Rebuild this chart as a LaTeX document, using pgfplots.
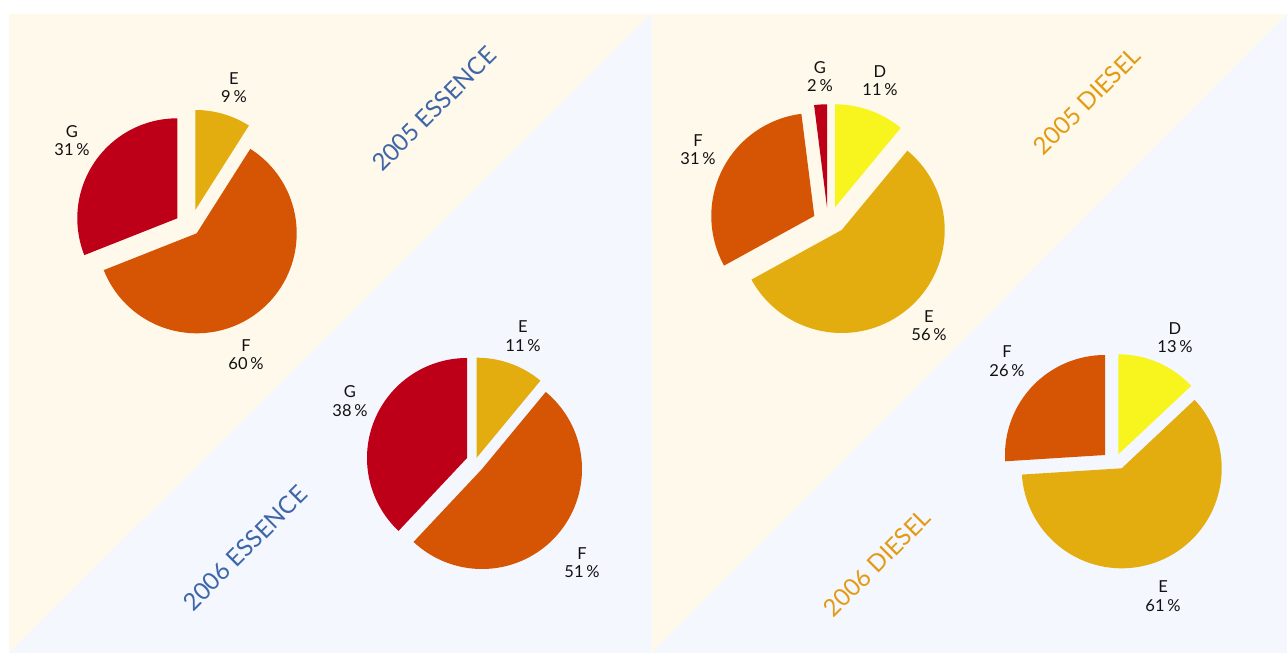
\documentclass[border=0pt]{standalone}
\usepackage{pgfplots}
\pgfplotsset{compat=1.18}
\usepackage{fontspec}
\setmainfont{Lato}
\definecolor{cream}{HTML}{FEF9EA}
\definecolor{paleblue}{HTML}{F4F7FD}
\definecolor{cRed}{HTML}{BD0017}
\definecolor{cOrange}{HTML}{D55504}
\definecolor{cGold}{HTML}{E3AD0F}
\definecolor{cYellow}{HTML}{F7F41E}
\definecolor{tBlue}{HTML}{3F66A8}
\definecolor{tOrange}{HTML}{E39B14}
\definecolor{lbl}{HTML}{111111}
% #1 cx, #2 cy (image coords), #3 radius, #4 cumulative share before, #5 share (percent), #6 colour
\newcommand{\slice}[6]{%
  \addplot[fill=#6, draw=none, domain={90-3.6*(#4+#5)}:{90-3.6*(#4)}, samples=120, variable=\t]
    ({#1+#3*cos(\t)},{#2-#3*sin(\t)}) -- (#1,#2) -- cycle;
}
\newcommand{\lab}[3]{\node[align=center, text=lbl, inner sep=0pt, font=\fontsize{16.5}{18.5}\selectfont] at (axis cs:#1,#2) {#3};}
\begin{document}
\begin{tikzpicture}
\begin{axis}[
  scale only axis, width=1287pt, height=653pt,
  xmin=0, xmax=1287, ymin=0, ymax=653, y dir=reverse,
  hide axis, clip=true]
% backgrounds
\addplot[fill=white, draw=none] coordinates {(0,0) (1287,0) (1287,653) (0,653)} -- cycle;
\addplot[fill=cream, draw=none] coordinates {(9,14) (651.5,14) (9,653)} -- cycle;
\addplot[fill=paleblue, draw=none] coordinates {(651.5,14) (651.5,653) (9,653)} -- cycle;
\addplot[fill=cream, draw=none] coordinates {(652,14) (1287,14) (652,653)} -- cycle;
\addplot[fill=paleblue, draw=none] coordinates {(1287,14) (1287,653) (652,653)} -- cycle;
% 2005 ESSENCE: E 9, F 60, G 31
\slice{195.3}{210}{100}{0}{9}{cGold}
\slice{196.7}{233.3}{100}{9}{60}{cOrange}
\slice{177.3}{218.3}{100}{69}{31}{cRed}
% 2006 ESSENCE: E 11, F 51, G 38
\slice{476.7}{457.7}{100}{0}{11}{cGold}
\slice{482}{469}{100}{11}{51}{cOrange}
\slice{467}{458}{100}{62}{38}{cRed}
% 2005 DIESEL: D 11, E 56, F 31, G 2
\slice{835}{207.3}{103}{0}{11}{cYellow}
\slice{841.7}{230}{103}{11}{56}{cGold}
\slice{814.3}{216}{103}{67}{31}{cOrange}
\slice{827}{207.3}{103}{98}{2}{cRed}
% 2006 DIESEL: D 13, E 61, F 26
\slice{1118.3}{454.3}{100}{0}{13}{cYellow}
\slice{1121.7}{468.3}{100}{13}{61}{cGold}
\slice{1105}{455}{100}{74}{26}{cOrange}
% labels
\lab{234}{87.5}{E\\9\,\%}
\lab{72}{140.5}{G\\31\,\%}
\lab{246}{354.5}{F\\60\,\%}
\lab{523}{336}{E\\11\,\%}
\lab{350}{401}{G\\38\,\%}
\lab{582}{562.5}{F\\51\,\%}
\lab{820}{76.5}{G\\2\,\%}
\lab{880}{80.5}{D\\11\,\%}
\lab{698}{149.5}{F\\31\,\%}
\lab{929}{325.5}{E\\56\,\%}
\lab{1175}{337.5}{D\\13\,\%}
\lab{1007}{361}{F\\26\,\%}
\lab{1163}{596}{E\\61\,\%}
% titles
\node[rotate=45, text=tBlue, inner sep=0pt, font=\fontsize{24}{24}\selectfont] at (axis cs:434,109) {2005 ESSENCE};
\node[rotate=45, text=tBlue, inner sep=0pt, font=\fontsize{24}{24}\selectfont] at (axis cs:245,548) {2006 ESSENCE};
\node[rotate=45, text=tOrange, inner sep=0pt, font=\fontsize{24}{24}\selectfont] at (axis cs:1087,101) {2005 DIESEL};
\node[rotate=45, text=tOrange, inner sep=0pt, font=\fontsize{24}{24}\selectfont] at (axis cs:877,563) {2006 DIESEL};
\end{axis}
\end{tikzpicture}
\end{document}
